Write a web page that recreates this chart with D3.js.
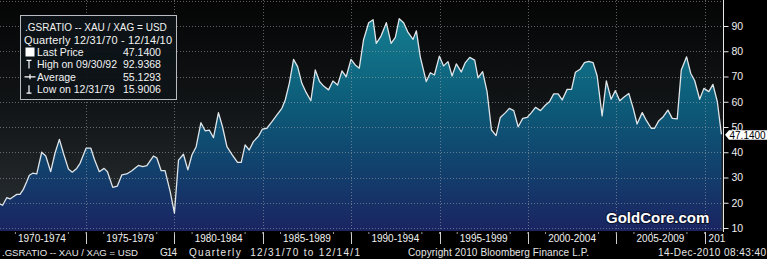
<!DOCTYPE html>
<html>
<head>
<meta charset="utf-8">
<script src="https://cdn.jsdelivr.net/npm/d3@7"></script>
<style>
  body { margin: 0; background: #000; }
  svg { display: block; font-family: "Liberation Sans", Arial, sans-serif; }
</style>
</head>
<body>
<svg id="chart" width="767" height="259"></svg>
<script>
// decimal years of the quarterly points
const dates = [
  1970.13, 1970.28, 1970.51, 1970.70, 1970.88, 1971.08, 1971.26, 1971.45, 1971.64, 1971.79,
  1971.98, 1972.21, 1972.49, 1972.72, 1973.00, 1973.24, 1973.49, 1973.75, 1974.00, 1974.22,
  1974.47, 1974.66, 1975.00, 1975.27, 1975.47, 1975.75, 1976.02, 1976.21, 1976.51, 1976.77,
  1977.02, 1977.30, 1977.59, 1977.96, 1978.21, 1978.44, 1978.81, 1979.00, 1979.25, 1979.47,
  1979.76, 1980.00, 1980.23, 1980.51, 1980.76, 1980.99, 1981.23, 1981.50, 1981.74, 1981.97,
  1982.21, 1982.49, 1982.72, 1982.97, 1983.28, 1983.57, 1983.78, 1984.00, 1984.23, 1984.47,
  1984.76, 1984.98, 1985.23, 1985.52, 1985.80, 1986.08, 1986.27, 1986.50, 1986.74, 1986.97,
  1987.21, 1987.46, 1987.72, 1987.97, 1988.21, 1988.44, 1988.72, 1988.97, 1989.23, 1989.48,
  1989.72, 1989.99, 1990.23, 1990.46, 1990.70, 1990.99, 1991.24, 1991.42, 1991.69, 1991.99,
  1992.26, 1992.50, 1992.72, 1992.97, 1993.20, 1993.50, 1993.69, 1993.91, 1994.25, 1994.48,
  1994.71, 1994.99, 1995.23, 1995.48, 1995.71, 1995.95, 1996.23, 1996.46, 1996.71, 1996.99,
  1997.18, 1997.44, 1997.69, 1997.94, 1998.20, 1998.44, 1998.73, 1998.95, 1999.20, 1999.45,
  1999.71, 1999.96, 2000.20, 2000.43, 2000.71, 2001.00, 2001.22, 2001.46, 2001.71, 2001.94,
  2002.22, 2002.47, 2002.69, 2002.97, 2003.20, 2003.44, 2003.69, 2003.92, 2004.20, 2004.44,
  2004.71, 2004.95, 2005.20, 2005.46, 2005.71, 2005.96, 2006.18, 2006.47, 2006.71, 2006.98,
  2007.17, 2007.41, 2007.66, 2007.92, 2008.17, 2008.45, 2008.68, 2008.98, 2009.21, 2009.44,
  2009.72, 2009.96, 2010.24, 2010.47, 2010.72, 2010.95
];
// gold / silver ratio
const ratio = [
  19.5, 19.0, 22.0, 21.5, 22.4, 23.3, 23.3, 25.3, 28.3, 30.9,
  31.7, 31.4, 40.0, 38.5, 32.3, 39.6, 45.1, 38.9, 33.4, 32.1,
  33.6, 35.6, 41.6, 41.6, 37.2, 32.3, 33.6, 32.3, 26.1, 26.6,
  31.0, 31.4, 32.7, 34.8, 34.3, 34.7, 38.5, 37.8, 32.7, 32.7,
  24.4, 15.9, 36.9, 39.2, 33.0, 38.9, 42.2, 51.7, 48.5, 48.8,
  45.8, 55.7, 50.1, 42.2, 38.9, 36.0, 36.0, 42.9, 40.9, 44.2,
  46.4, 49.2, 49.5, 52.1, 54.8, 57.4, 60.7, 67.3, 76.8, 73.9,
  67.3, 63.6, 60.4, 72.6, 68.0, 66.2, 64.7, 68.2, 66.6, 72.2,
  69.9, 76.8, 74.6, 73.3, 84.5, 91.3, 92.5, 83.1, 86.0, 91.3,
  83.1, 85.5, 92.9, 91.3, 87.7, 84.7, 88.1, 77.8, 68.0, 71.5,
  70.6, 78.1, 74.2, 75.9, 70.2, 75.0, 71.8, 75.5, 77.6, 76.5,
  69.5, 71.9, 64.0, 48.8, 46.6, 53.8, 55.7, 57.4, 56.5, 50.1,
  53.4, 53.8, 55.7, 57.8, 56.5, 58.7, 60.0, 63.1, 63.1, 60.7,
  64.9, 64.9, 71.7, 73.0, 75.5, 76.0, 75.5, 70.2, 54.4, 68.3,
  61.0, 64.4, 60.4, 62.0, 63.3, 57.4, 51.2, 55.7, 52.5, 49.5,
  49.5, 52.5, 54.1, 56.7, 53.4, 53.2, 72.6, 77.8, 71.3, 68.3,
  61.0, 65.3, 64.0, 66.9, 60.0, 47.14
];

const periodStarts = [1970, 1975, 1980, 1985, 1990, 1995, 2000, 2005, 2010];
const periodLabels = ["1970-1974", "1975-1979", "1980-1984", "1985-1989", "1990-1994",
  "1995-1999", "2000-2004", "2005-2009", "201"];
const yTicks = [10, 20, 30, 40, 50, 60, 70, 80, 90];
const gridValues = [10, 20, 30, 40, 50, 60, 70, 80, 90, 100];

const legendRows = [
  { sym: "box",  label: "Last Price",        value: "47.1400" },
  { sym: "high", label: "High on 09/30/92",  value: "92.9368" },
  { sym: "avg",  label: "Average",           value: "55.1293" },
  { sym: "low",  label: "Low on 12/31/79",   value: "15.9006" }
];

const W = 767, H = 259;
const plotRight = 723, plotBottom = 231;

const svg = d3.select("#chart");
const data = dates.map((d, i) => ({ t: d, v: ratio[i] }));

const x = d3.scaleLinear().domain([1970.13, 2011.04]).range([0, plotRight]);
const y = d3.scaleLinear().domain([10, 90]).range([228, 26]);

const defs = svg.append("defs");
const bg = defs.append("linearGradient").attr("id", "bg")
  .attr("gradientUnits", "userSpaceOnUse").attr("x1", 0).attr("y1", 0).attr("x2", 0).attr("y2", plotBottom);
bg.append("stop").attr("offset", 0).attr("stop-color", "#050505");
bg.append("stop").attr("offset", 0.45).attr("stop-color", "#111416");
bg.append("stop").attr("offset", 1).attr("stop-color", "#2a3034");

const fill = defs.append("linearGradient").attr("id", "fill")
  .attr("gradientUnits", "userSpaceOnUse").attr("x1", 0).attr("y1", 20).attr("x2", 0).attr("y2", plotBottom);
fill.append("stop").attr("offset", 0).attr("stop-color", "#147d8f");
fill.append("stop").attr("offset", 0.4).attr("stop-color", "#0c5b78");
fill.append("stop").attr("offset", 0.72).attr("stop-color", "#123f6c");
fill.append("stop").attr("offset", 1).attr("stop-color", "#1a2462");

defs.append("clipPath").attr("id", "plotClip")
  .append("rect").attr("x", 0).attr("y", 0).attr("width", plotRight).attr("height", plotBottom);

// plot background
svg.append("rect").attr("x", 0).attr("y", 0).attr("width", plotRight).attr("height", plotBottom)
  .attr("fill", "url(#bg)");

const plot = svg.append("g").attr("clip-path", "url(#plotClip)");

// area + line
plot.append("path").datum(data)
  .attr("fill", "url(#fill)")
  .attr("d", d3.area().x(d => x(d.t)).y0(plotBottom).y1(d => y(d.v)));

// grid
plot.append("g").selectAll("line").data(gridValues).join("line")
  .attr("x1", 0).attr("x2", plotRight)
  .attr("y1", d => Math.round(y(d)) + 0.5).attr("y2", d => Math.round(y(d)) + 0.5)
  .attr("stroke", "#a4a9ae").attr("stroke-opacity", 0.55)
  .attr("stroke-dasharray", "1,2");
plot.append("g").selectAll("line").data(periodStarts.slice(1)).join("line")
  .attr("x1", d => Math.round(x(d)) + 0.5).attr("x2", d => Math.round(x(d)) + 0.5)
  .attr("y1", 0).attr("y2", plotBottom)
  .attr("stroke", "#a4a9ae").attr("stroke-opacity", 0.55)
  .attr("stroke-dasharray", "1,2");

plot.append("path").datum(data)
  .attr("fill", "none").attr("stroke", "#dfe5e8").attr("stroke-width", 1.3)
  .attr("stroke-linejoin", "round")
  .attr("d", d3.line().x(d => x(d.t)).y(d => y(d.v)));

// right axis
const yAxis = svg.append("g").attr("transform", `translate(${plotRight + 0.5},0)`)
  .call(d3.axisRight(y).tickValues(yTicks).tickSize(5).tickPadding(3).tickFormat(d3.format("d")));
yAxis.select(".domain").attr("d", `M0,0V${plotBottom + 1}`).attr("stroke", "#e8e8e8");
yAxis.selectAll(".tick line").attr("stroke", "#e8e8e8");
yAxis.selectAll(".tick text").attr("fill", "#f0f0f0")
  .style("font-family", "Liberation Sans, Arial, sans-serif").style("font-size", "10.5px");

// last price tag
const lastV = ratio[ratio.length - 1];
const tagY = y(lastV) + 0.5;
svg.append("path")
  .attr("d", `M${plotRight + 2},${tagY} L${plotRight + 6},${tagY - 4.5} H${W} V${tagY + 5} H${plotRight + 6} Z`)
  .attr("fill", "#ffffff");
svg.append("text").attr("x", plotRight + 6.5).attr("y", tagY + 3.8)
  .attr("fill", "#000").attr("font-size", 10).text(d3.format(".4f")(lastV));

// bottom period axis
const xb = svg.append("g");
xb.selectAll("line.sep").data(periodStarts.slice(1)).join("line").attr("class", "sep")
  .attr("x1", d => Math.round(x(d)) + 0.5).attr("x2", d => Math.round(x(d)) + 0.5)
  .attr("y1", plotBottom + 1).attr("y2", plotBottom + 13)
  .attr("stroke", "#d0d0d0");
xb.selectAll("line.yr").data(d3.range(1971, 2011)).join("line").attr("class", "yr")
  .attr("x1", d => x(d)).attr("x2", d => x(d))
  .attr("y1", plotBottom + 1).attr("y2", plotBottom + 3)
  .attr("stroke", "#9a9a9a");
xb.selectAll("text").data(periodStarts).join("text")
  .attr("x", (d, i) => i < periodStarts.length - 1 ? (x(d) + x(d + 5)) / 2 : x(d) + 4)
  .attr("y", plotBottom + 11)
  .attr("text-anchor", (d, i) => i < periodStarts.length - 1 ? "middle" : "start")
  .attr("fill", "#f2f2f2").attr("font-size", 10)
  .text((d, i) => periodLabels[i]);

// footer
const foot = [
  { x: 2, w: 136, fs: 9.6, t: ".GSRATIO -- XAU / XAG = USD" },
  { x: 160, w: 17, fs: 10, t: "G14" },
  { x: 189, w: 171, fs: 10, t: "Quarterly  12/31/70 to 12/14/1" },
  { x: 408, w: 181, fs: 10, t: "Copyright 2010 Bloomberg Finance L.P." },
  { x: 658, w: 108, fs: 10, t: "14-Dec-2010 08:43:40" }
];
svg.append("g").selectAll("text").data(foot).join("text")
  .attr("x", d => d.x).attr("y", 256).attr("fill", "#e6e6e6").attr("font-size", d => d.fs)
  .style("white-space", "pre")
  .attr("textLength", d => d.w).attr("lengthAdjust", "spacing")
  .text(d => d.t);

// watermark
svg.append("text").attr("x", 606).attr("y", 223)
  .attr("font-size", 15).attr("font-weight", "bold").attr("fill", "#ffffff")
  .attr("stroke", "#0b1430").attr("stroke-width", 2).attr("paint-order", "stroke")
  .text("GoldCore.com");

// legend
const lg = svg.append("g").attr("transform", "translate(20.5,15.5)");
lg.append("rect").attr("width", 156).attr("height", 84)
  .attr("fill", "#0d1418").attr("fill-opacity", 0.92)
  .attr("stroke", "#b8bcc0").attr("stroke-width", 1);
lg.append("text").attr("x", 4.5).attr("y", 15.5).attr("fill", "#f2f2f2").attr("font-size", 10)
  .text(".GSRATIO -- XAU / XAG = USD");
lg.append("text").attr("x", 3.5).attr("y", 28).attr("fill", "#f2f2f2").attr("font-size", 11)
  .attr("textLength", 148).attr("lengthAdjust", "spacing")
  .text("Quarterly 12/31/70 - 12/14/10");
const row = lg.selectAll("g.row").data(legendRows).join("g").attr("class", "row")
  .attr("transform", (d, i) => `translate(0,${40.5 + i * 12.4})`);
row.append("text").attr("x", 16.5).attr("y", 0).attr("fill", "#f2f2f2").attr("font-size", 10.5)
  .text(d => d.label);
row.append("text").attr("x", 102.5).attr("y", 0).attr("fill", "#f2f2f2").attr("font-size", 10.5)
  .text(d => d.value);
row.each(function (d) {
  const g = d3.select(this);
  if (d.sym === "box") {
    g.append("rect").attr("x", 5).attr("y", -8.5).attr("width", 9).attr("height", 9).attr("fill", "#fff");
  } else if (d.sym === "high") {
    g.append("path").attr("d", "M6,-8H11M8.5,-8V0").attr("stroke", "#fff").attr("stroke-width", 1.2).attr("fill", "none");
  } else if (d.sym === "avg") {
    g.append("path").attr("d", "M4,-4H15M9.5,-6.5V-1.5").attr("stroke", "#fff").attr("stroke-width", 1.2).attr("fill", "none");
  } else {
    g.append("path").attr("d", "M8.5,-8V0M6,0H11").attr("stroke", "#fff").attr("stroke-width", 1.2).attr("fill", "none");
  }
});
</script>
</body>
</html>
